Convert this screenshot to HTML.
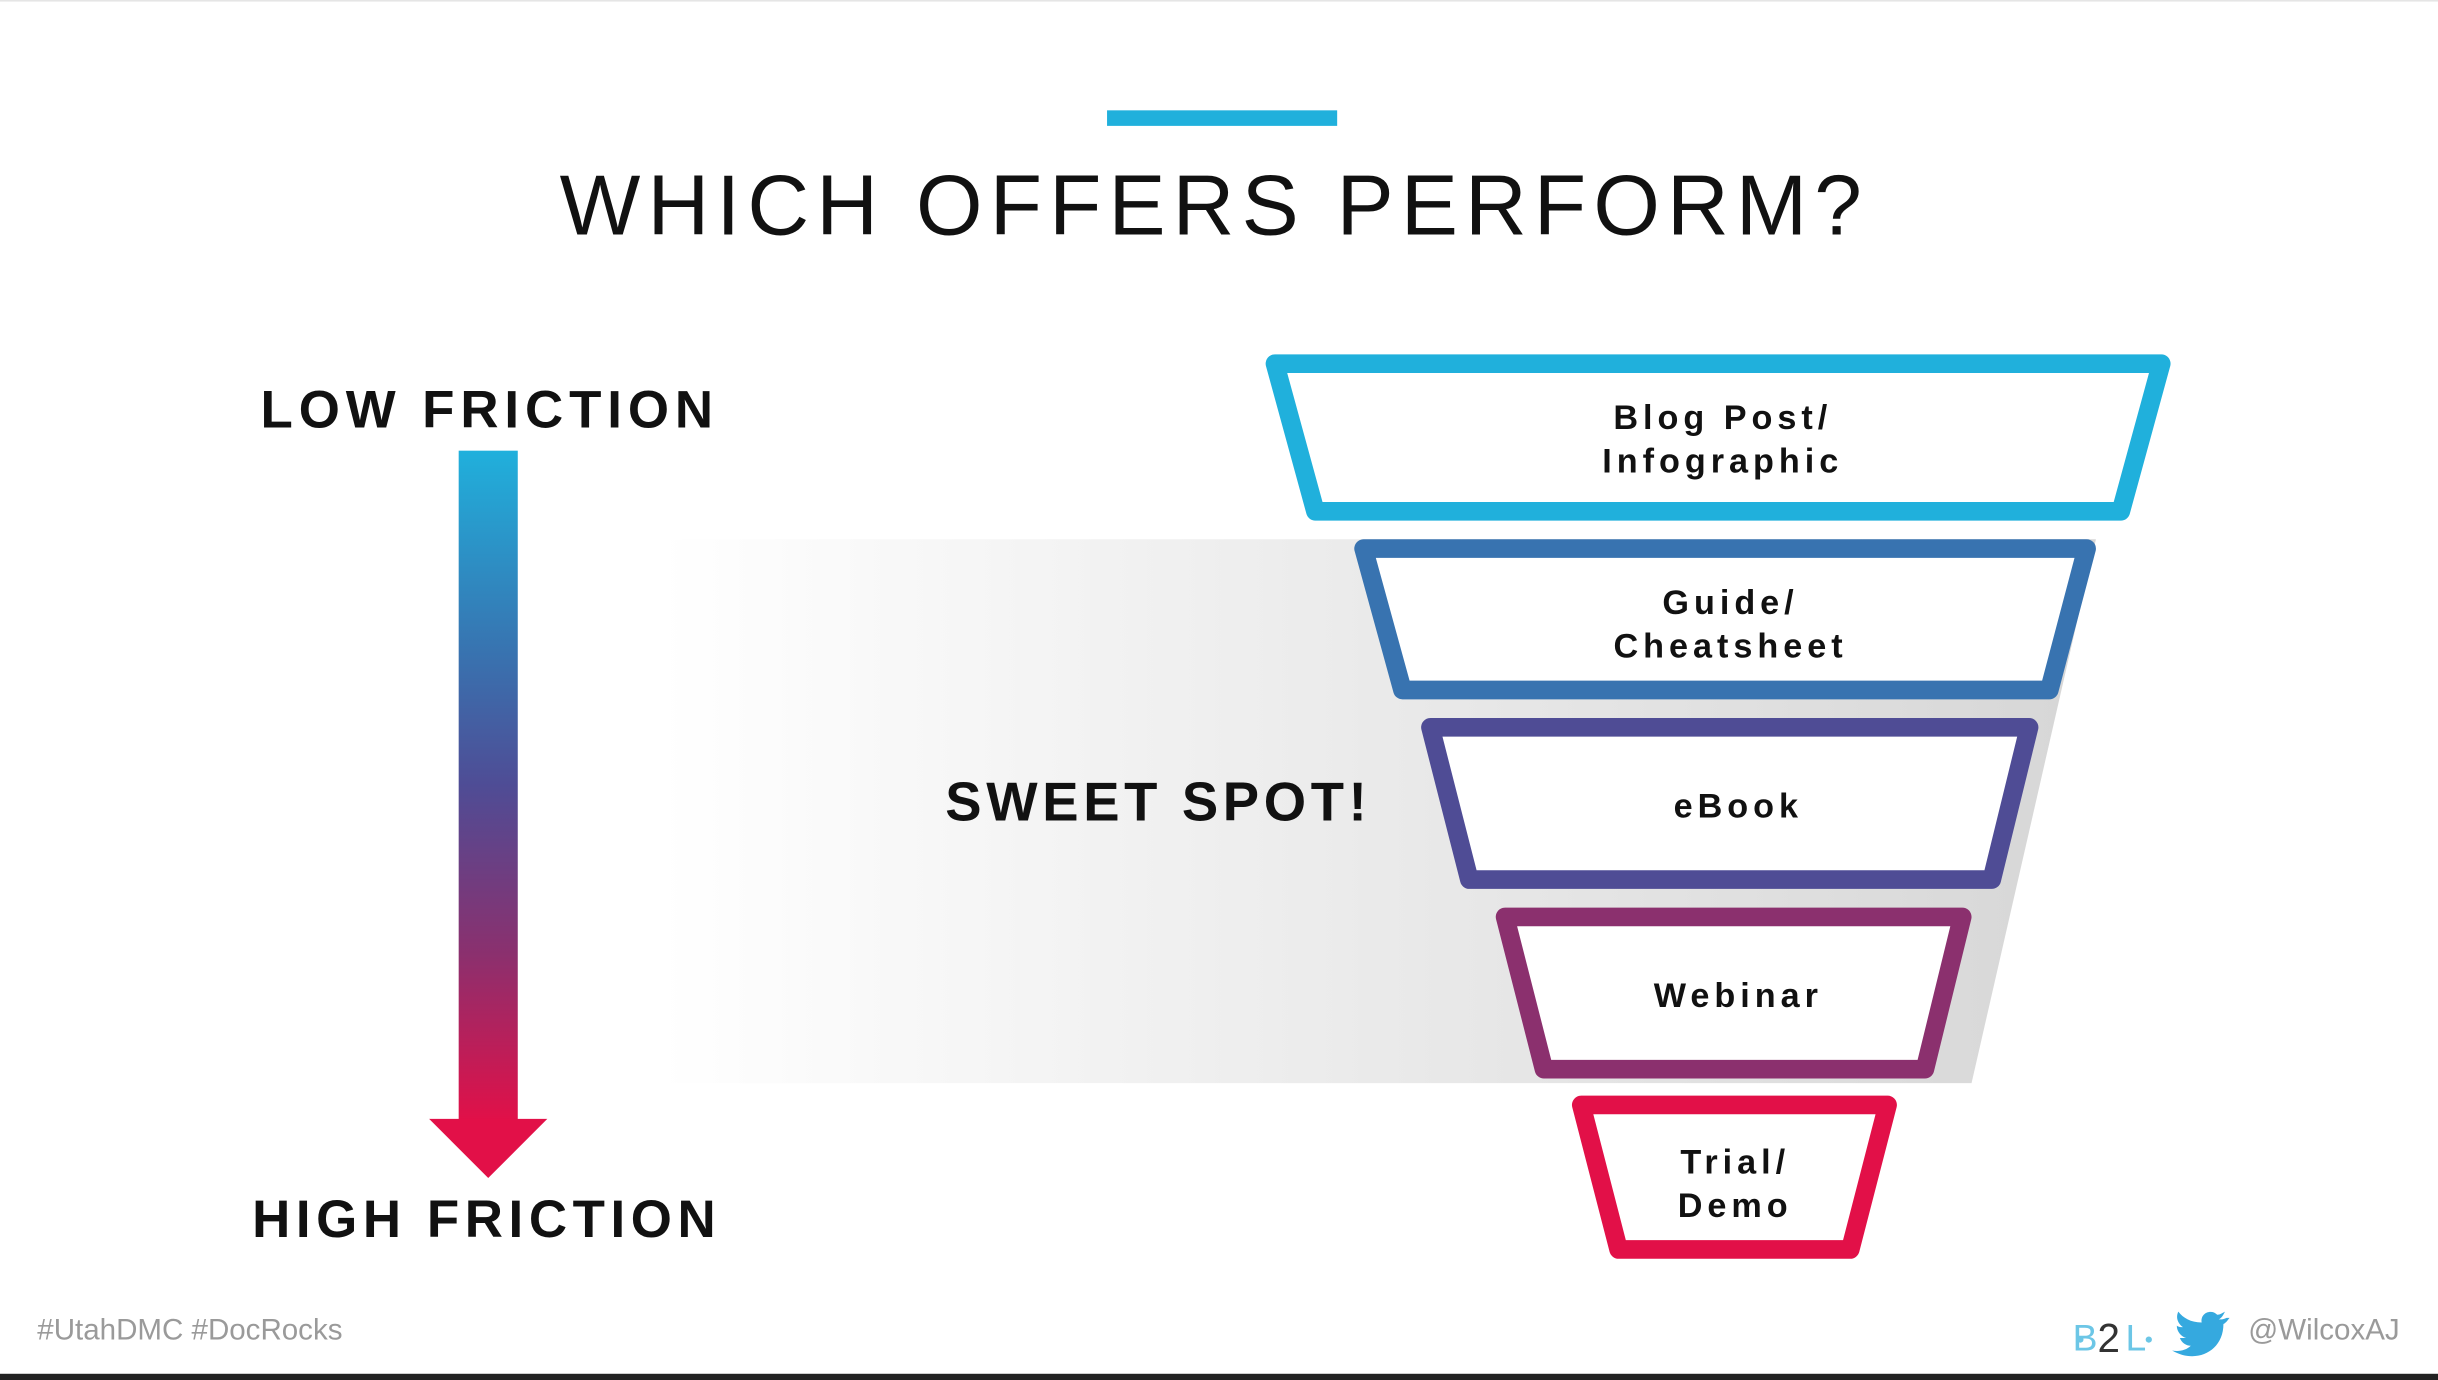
<!DOCTYPE html>
<html><head><meta charset="utf-8"><style>
html,body{margin:0;padding:0;background:#fff;}
svg{display:block;}
text{font-family:"Liberation Sans",Arial,sans-serif;}
</style></head><body>
<svg width="2438" height="1380" viewBox="0 0 1568 888" preserveAspectRatio="none" xmlns="http://www.w3.org/2000/svg">
<defs>
<linearGradient id="gr" x1="0" y1="0" x2="1" y2="0">
<stop offset="0" stop-color="#ffffff"/>
<stop offset="0.45" stop-color="#ececec"/>
<stop offset="1" stop-color="#d6d6d6"/>
</linearGradient>
<linearGradient id="ar" x1="0" y1="0" x2="0" y2="1">
<stop offset="0" stop-color="#20b0dc"/>
<stop offset="0.3" stop-color="#3873b0"/>
<stop offset="0.5" stop-color="#4f4c95"/>
<stop offset="0.75" stop-color="#8b306e"/>
<stop offset="1" stop-color="#e21048"/>
</linearGradient>
</defs>
<rect x="0" y="0" width="1568" height="1" fill="#e5e5e5"/>
<rect x="712" y="71" width="148" height="10" fill="#20b0dc"/>
<text x="781" y="151" font-size="55" text-anchor="middle" letter-spacing="4.6" fill="#111">WHICH OFFERS PERFORM?</text>

<polygon points="425,347 1348,347 1268,697 425,697" fill="url(#gr)"/>

<text x="315" y="275" font-size="34" font-weight="bold" text-anchor="middle" letter-spacing="3.8" fill="#111">LOW FRICTION</text>
<text x="313" y="796" font-size="34" font-weight="bold" text-anchor="middle" letter-spacing="3.6" fill="#111">HIGH FRICTION</text>
<rect x="295" y="290" width="38" height="432" fill="url(#ar)"/>
<polygon points="276,720 352,720 314,758" fill="#e21048"/>

<text x="745" y="528" font-size="35" font-weight="bold" text-anchor="middle" letter-spacing="3" fill="#111">SWEET SPOT!</text>

<g fill="#fff" stroke-width="12" stroke-linejoin="round">
<polygon points="820,234 1390,234 1364,329 846,329" stroke="#20b0dc"/>
<polygon points="877,353 1342,353 1318,444 902,444" stroke="#3873b0"/>
<polygon points="920,468 1305,468 1281,566 945,566" stroke="#4f4c95"/>
<polygon points="968,590 1262,590 1238,688 993,688" stroke="#8b306e"/>
<polygon points="1017,711 1214,711 1190,804 1041,804" stroke="#e21048"/>
</g>
<g font-size="22" font-weight="bold" text-anchor="middle" letter-spacing="3.2" fill="#111">
<text x="1108" y="276">Blog Post/</text>
<text x="1108" y="304">Infographic</text>
<text x="1113" y="395">Guide/</text>
<text x="1113" y="423">Cheatsheet</text>
<text x="1118" y="526">eBook</text>
<text x="1118" y="648">Webinar</text>
<text x="1116" y="755">Trial/</text>
<text x="1116" y="783">Demo</text>
</g>

<text x="24" y="862" font-size="19" fill="#9a9a9a">#UtahDMC #DocRocks</text>
<text x="1446" y="862" font-size="19" fill="#9a9a9a">@WilcoxAJ</text>
<g>
<text x="1333" y="869" font-size="24" fill="#6cc6e6">B</text>
<text x="1349" y="870" font-size="26" fill="#333">2</text>
<text x="1367" y="869" font-size="24" fill="#6cc6e6">L</text>
<circle cx="1338" cy="862" r="2" fill="#6cc6e6"/>
<circle cx="1382" cy="862" r="2" fill="#6cc6e6"/>
</g>
<path d="M1432,848 c-2,1 -3,1 -5,1 c2,-1 3,-3 4,-5 c-2,1 -3,2 -5,2 c-4,-4 -11,-1 -10,5 c-7,0 -12,-3 -15,-7 c-2,4 0,8 3,10 c-1,0 -3,0 -4,-1 c0,4 3,7 6,8 c-1,0 -3,0 -4,0 c1,3 4,5 7,5 c-3,3 -8,4 -12,3 c15,9 33,1 33,-17 c2,-1 3,-3 4,-4 z" fill="#35a9df"/>
<rect x="0" y="884" width="1568" height="4" fill="#222"/>
</svg>
</body></html>
